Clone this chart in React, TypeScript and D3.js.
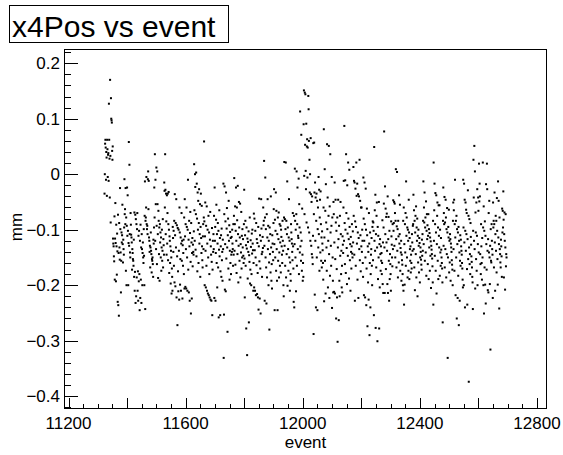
import React from "react";
import * as d3 from "d3";

// x4Pos per event, in micrometres; one row per 34 consecutive events
const FIRST_EVENT = 11323;
const x4PosUm: number[][] = [
  [-35, 0, 55, 62, 48, -10, 40, 30, -39, 62, 45, -5, 35, 38, -12, 127, 62, 28, -42, 170, 33, -87, 137, 100, 97, 93, 42, 26, 50, -116, -125, -130, -148, -157],
  [-76, -190, -116, -52, -124, -193, -91, -130, -181, -107, -139, -230, -73, -236, -142, -255, -88, -132, -154, -25, -99, -141, -213, -156, -105, -123, -110, -55, -126, -159, -118, -135, -145, -96],
  [-9, -72, -63, -90, -25, -174, -78, -200, -93, -24, -111, -38, -102, -200, -124, 58, -129, 17, -108, -141, -150, -70, -91, -109, -114, -123, -172, -135, -142, -153, -156, -165, -118, -185],
  [-69, -210, -176, -73, -232, -81, -220, -90, -186, -99, -70, -210, -175, -228, -111, -193, -102, -180, -245, -120, -223, -91, -190, -132, -232, -108, -135, -200, -142, -123, -150, -160, -99, -147],
  [-200, -75, -13, -243, -84, -78, -60, -5, -90, -99, -93, -108, -9, 5, -63, -12, -114, -120, -140, -129, -168, -132, -105, -138, -144, -177, -153, -156, -150, -162, -185, -118, -125, -96],
  [-24, -78, 36, -120, -10, -54, -135, 12, -93, -162, 5, -54, -108, -187, -66, -84, -144, -96, -192, -90, -123, -105, -150, -114, -174, -132, -100, -156, -138, -81, -168, -117, -128, -145],
  [-15, -30, -60, 36, -28, -108, -35, -85, -145, -38, -125, -70, -35, -155, -90, -32, -100, -178, -112, -120, -160, -130, -197, -138, -150, -215, -170, -185, -210, -95, -115, -140, -102, -165],
  [-84, -195, -36, -110, -202, -88, -132, -45, -222, -92, -148, -272, -97, -175, -211, -100, -138, -226, -60, -105, -199, -153, -114, -210, -125, -70, -156, -120, -224, -128, -165, -142, -118, -180],
  [-78, -206, -45, -112, -203, -90, -135, -206, -60, -95, -150, -210, -100, -10, -172, -118, -213, -84, -130, -228, -106, -68, -158, -251, -88, -123, -224, -142, -115, -166, -127, -140, -145, -103],
  [18, -65, -120, 0, -23, -136, -72, 3, -148, -17, -80, -175, -33, -100, -48, -160, -88, -27, -125, -108, -54, -185, -95, -35, -115, -142, -57, -130, -155, -168, -112, -90, -135, -78],
  [59, -85, -200, -112, -51, -138, -204, -93, -165, -58, -210, -125, -100, -215, -150, -75, -218, -105, -180, -222, -118, -68, -226, -130, -145, -228, -158, -97, -254, -172, -120, -140, -108, -135],
  [-75, -223, -24, -120, -95, -228, -142, -82, -55, -160, -108, -204, -125, -88, -168, -102, -258, -136, -65, -148, -115, -254, -175, -130, -110, -185, -98, -155, -140, -192, -118, -135, -17, -331],
  [-253, -72, -22, -208, -126, -85, -211, -33, -152, -98, -61, -132, -284, -110, -80, -170, -48, -120, -92, -190, -138, -104, -160, -115, -180, -145, -113, -140, -100, -125, -135, -165, -90, -145],
  [-75, -7, -138, -90, -58, -163, -102, -24, -120, -178, -60, -83, -144, -21, -108, -195, -129, -50, -96, -156, -114, -53, -186, -126, -141, -68, -170, -111, -150, -99, -132, -117, -147, -160],
  [-90, -28, -152, -222, -110, -84, -165, -128, -278, -96, -134, -326, -116, -188, -122, -140, -103, -267, -146, -158, -78, -197, -172, -119, -131, -200, -180, -107, -143, -100, -125, -137, -210, -160],
  [-71, -204, -80, -137, -210, -102, -150, -218, -88, -164, -117, -216, -124, -178, -222, -95, -244, -130, -44, -157, -224, -110, -170, -251, -120, -45, -98, -144, -185, -140, -113, -133, -60, -92],
  [-84, 24, -129, -228, -78, -6, -150, -99, -168, -233, -72, -186, -114, -45, -135, -93, -200, -120, -159, -280, -96, -144, -108, -177, -40, -132, -192, -162, -206, -110, -125, -140, -155, -88],
  [-63, -27, -126, -245, -82, -150, -102, -33, -174, -66, -135, -192, -108, -245, -78, -156, -117, -69, -186, -141, -90, -165, -123, -93, -177, -100, -113, -130, -145, -160, -84, -120, -138, -200],
  [-220, -78, 22, -129, -81, -165, -99, 21, -186, -84, -144, -108, -13, -201, -96, -135, -174, -114, -45, -150, -120, -210, -159, -180, -192, -90, -105, -117, -125, -140, -155, -70, -130, -170],
  [-230, -75, -240, -126, 10, -84, -150, -100, -211, -72, 5, -165, -90, -24, -135, -111, -115, -8, -180, -54, -96, -141, 113, -130, -105, -156, 71, -120, -174, -62, -145, -192, -160, -185],
  [90, 151, -3, -72, 147, 53, 144, 6, -27, 91, -87, 50, 63, -6, 48, -96, 141, 117, 60, -105, 26, -33, 0, -120, 65, -36, -129, -50, -144, -40, -150, -162, -111, 56],
  [-288, -72, 57, -33, -217, -15, -120, -42, -240, -84, -35, -150, -48, -245, -99, -60, -132, -5, -108, -28, -174, -78, -46, -141, -31, -90, -156, -114, -168, -103, -125, -137, -160, -190],
  [-60, 81, -229, -114, 9, -156, -66, -215, -18, -87, -132, -174, 54, -99, -42, -204, -120, -75, 51, -144, -223, -58, -183, 36, -105, -129, -165, -93, -5, -241, -78, -150, -192, -213],
  [-50, -72, -212, -123, -15, -215, -153, -46, -87, -260, -102, -171, -222, -78, -302, -132, -46, -117, -263, -93, -192, -220, -75, -147, -50, -108, -180, -138, -204, -165, -213, -112, -127, -142],
  [-60, -12, -120, 87, -88, -162, -11, -100, -178, 36, -70, -133, -198, -20, -107, -147, 21, -80, -117, -188, 8, -95, -155, -126, -210, -113, -140, -170, -130, -90, -143, -150, -103, -123],
  [13, -75, -12, -145, -15, -228, -85, -26, -165, -95, 21, -39, -125, -17, -190, -105, -36, -223, -115, -40, -135, 26, -155, -48, -110, -175, -60, -130, -60, -140, -100, -120, -160, -185],
  [-6, -80, -218, -120, -15, -90, -222, -150, -26, -100, -236, -170, -62, -110, -274, -130, -195, -140, -226, -70, -125, -290, -160, -105, -240, -180, -145, -135, -115, -165, -200, -95, -85, -155],
  [-87, -102, -254, 49, -120, -65, -138, -37, -277, -108, -168, -75, -51, -132, -301, -95, -189, -111, -150, -50, -278, -126, -204, -117, -144, -174, -130, -156, -142, -180, -160, -83, -198, -123],
  [-214, -96, -53, 77, -132, -214, -22, -108, -62, -171, -77, -123, -71, -138, -198, -40, -214, -117, -77, -156, -228, -102, -189, -144, -162, -180, -210, -85, -112, -127, -150, -166, -90, -135],
  [-47, -102, -88, -50, -129, -53, -70, -150, -84, 9, -117, -168, -94, 4, -138, -99, -186, -84, -112, -159, -38, -125, -108, -55, -174, -133, -141, -120, -192, -145, -155, -163, -180, -200],
  [-84, -210, -60, -235, -126, -199, -90, -141, -70, -165, -13, -111, -78, -150, -96, -186, -100, -120, -174, -46, -105, -189, -115, -135, -156, -130, -177, -145, -160, -170, -108, -123, -138, -93],
  [-90, -37, -135, -65, -168, -84, -209, -105, -75, -144, -58, -186, -96, -120, -80, -220, -111, -159, -100, -129, -177, -115, -124, -195, -150, -132, -140, -154, -163, -172, -118, -147, -108, -138],
  [-84, -13, -126, -60, -87, -33, -156, -96, -78, -141, -49, -183, -102, -72, -117, -92, -162, -111, -72, -189, -99, -132, -106, -174, -114, -147, -121, -205, -129, -136, -144, -152, -166, -195],
  [-84, -235, 21, -120, -65, -17, -147, -90, -34, -174, -105, -38, -215, -126, -75, -51, -156, -96, -189, -56, -111, -132, -56, -183, -100, -141, -165, -115, -136, -150, -160, -170, -195, -267],
  [-84, -24, -129, -70, -90, -41, -168, -87, -135, -46, -78, -186, -99, -144, -61, -105, -331, -150, -95, -114, -64, -177, -120, -159, -108, -117, -192, -125, -132, -140, -155, -163, -172, -200],
  [-84, -51, -135, -65, -46, -174, -90, -10, -114, -218, -84, -150, -75, -260, -99, -126, -223, -105, -183, -95, -272, -120, -141, -228, -156, -110, -165, -118, -130, -138, -145, -160, -170, -190],
  [-204, -10, -96, -200, -17, -123, -46, -240, -102, -51, -138, -64, -108, -70, -171, -235, -117, -29, -153, -75, -374, -132, -81, -162, -144, -180, -88, -113, -127, -148, -158, -168, -185, -195],
  [-243, -102, 26, -42, -120, 51, -135, 5, -206, -69, -105, -153, -51, -174, -111, -27, -200, -126, -42, -66, -141, 19, -49, -17, -40, -144, -162, -180, -90, -130, -160, -190, -115, -150],
  [21, -96, -200, -58, -251, -102, -168, -85, -199, -111, -233, -18, -126, -172, 19, -27, -138, -209, -117, -213, -70, -141, -48, -150, -198, -129, -316, -99, -156, -159, -90, -120, -135, -145],
  [-223, -51, -96, -84, -168, -90, -33, -123, -210, -108, -75, -138, -84, -177, -43, -102, -153, -199, -13, -114, -48, -126, -242, -78, -135, -144, -159, -168, -118, -130, -148, -185, -62, -105],
  [-66, -96, -31, -82, -186, -108, -69, -120, -208, -132, -72, -166, -144, -150],
];

const xLabelTicks = [11200, 11600, 12000, 12400, 12800];
const yLabelTicks = [0.2, 0.1, 0, -0.1, -0.2, -0.3, -0.4];
const xDomain = [11184.6, 12834.2];
const yDomain = [-0.4231, 0.2256];

const W = 563;
const H = 455;
const FRAME = { left: 64, right: 547, top: 49, bottom: 409 };
const FONT = "'Liberation Sans', Arial, Helvetica, sans-serif";
const LABEL_SIZE = 17;

const fmtY = (v: number) =>
  Math.abs(v) < 1e-9 ? "0" : (v < 0 ? "\u2212" : "") + Math.abs(v).toFixed(1);

export default function App() {
  const x = d3.scaleLinear().domain(xDomain).range([FRAME.left, FRAME.right]);
  const y = d3.scaleLinear().domain(yDomain).range([FRAME.bottom, FRAME.top]);

  const points = x4PosUm.flat().map((um, i) => ({ event: FIRST_EVENT + i, mm: um / 1000 }));

  const xMajor = d3.range(11200, 12801, 200);
  const xMinor = d3.range(11200, 12834, 50).filter((v) => v % 200 !== 0);
  const yAll = d3.range(-21, 12).map((k) => ({ v: k * 0.02, major: k % 5 === 0 }));

  const px = (v: number) => Math.round(v) + 0.5;

  return (
    <svg
      width={W}
      height={H}
      viewBox={`0 0 ${W} ${H}`}
      style={{ position: "absolute", left: 0, top: 0, background: "#fff" }}
    >
      <rect x={0} y={0} width={W} height={H} fill="#fff" />

      {/* scatter markers */}
      <g fill="#000">
        {points.map((p) => (
          <rect key={p.event} x={x(p.event) - 1} y={y(p.mm) - 1} width={2} height={2} />
        ))}
      </g>

      {/* frame */}
      <rect
        x={FRAME.left + 0.5}
        y={FRAME.top + 0.5}
        width={FRAME.right - FRAME.left - 1}
        height={FRAME.bottom - FRAME.top - 1}
        fill="none"
        stroke="#000"
        strokeWidth={1}
        shapeRendering="crispEdges"
      />

      {/* axis ticks */}
      <g stroke="#000" strokeWidth={1} shapeRendering="crispEdges">
        {xMajor.map((v) => (
          <line key={"xM" + v} x1={px(x(v))} x2={px(x(v))} y1={FRAME.bottom} y2={FRAME.bottom - 11} />
        ))}
        {xMinor.map((v) => (
          <line key={"xm" + v} x1={px(x(v))} x2={px(x(v))} y1={FRAME.bottom} y2={FRAME.bottom - 5.5} />
        ))}
        {yAll.map((t) => (
          <line
            key={"y" + t.v.toFixed(2)}
            x1={FRAME.left}
            x2={FRAME.left + (t.major ? 14 : 7)}
            y1={px(y(t.v))}
            y2={px(y(t.v))}
          />
        ))}
      </g>

      {/* tick labels */}
      <g fontFamily={FONT} fontSize={LABEL_SIZE} fill="#000">
        {xLabelTicks.map((v) => (
          <text key={"xl" + v} x={x(v)} y={429} textAnchor="middle">
            {v}
          </text>
        ))}
        {yLabelTicks.map((v) => (
          <text key={"yl" + v} x={60} y={y(v) + 6} textAnchor="end">
            {fmtY(v)}
          </text>
        ))}
      </g>

      {/* axis titles */}
      <text
        x={(FRAME.left + FRAME.right) / 2}
        y={448}
        textAnchor="middle"
        fontFamily={FONT}
        fontSize={LABEL_SIZE}
      >
        event
      </text>
      <text
        transform="translate(22,227) rotate(-90)"
        textAnchor="middle"
        fontFamily={FONT}
        fontSize={LABEL_SIZE}
      >
        mm
      </text>

      {/* title box */}
      <rect x={9.5} y={5.5} width={219} height={37} fill="#fff" stroke="#000" strokeWidth={1} shapeRendering="crispEdges" />
      <text x={12} y={37} fontFamily={FONT} fontSize={30}>
        x4Pos vs event
      </text>
    </svg>
  );
}
